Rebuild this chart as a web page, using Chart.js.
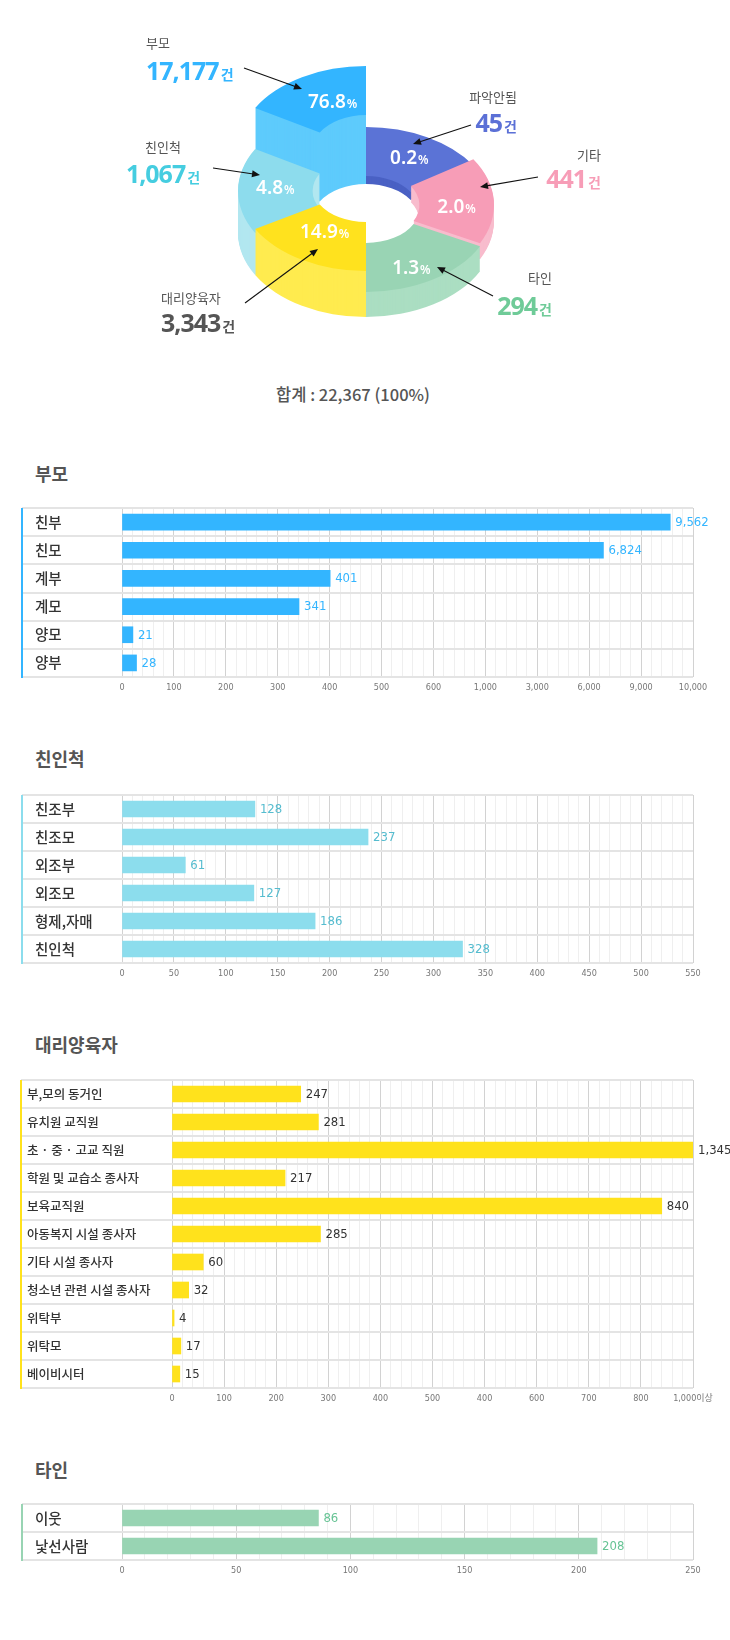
<!DOCTYPE html>
<html><head><meta charset="utf-8">
<script src="https://cdn.jsdelivr.net/npm/chart.js@4"></script>
<style>
html,body{margin:0;padding:0;background:#fff;}
#page{position:relative;width:730px;height:1640px;overflow:hidden;font-family:'Noto Sans CJK KR','Noto Sans',sans-serif;background:#fff;}
canvas{position:absolute;left:0;}
.title{position:absolute;left:35px;font-size:18px;line-height:22px;font-weight:700;color:#555;white-space:nowrap;}
.co{position:absolute;white-space:nowrap;z-index:2;}
.co .nm{font-size:13px;line-height:16px;color:#555;}
.co .num{font-family:'Noto Sans',sans-serif;font-weight:700;font-size:25px;line-height:28px;letter-spacing:-1px;}
.co .unit{font-family:'Noto Sans CJK KR',sans-serif;font-size:14px;font-weight:700;letter-spacing:0;margin-left:2px;}
#total{position:absolute;left:353px;top:384px;transform:translateX(-50%);font-size:16.5px;line-height:20px;color:#555;font-weight:500;white-space:nowrap;}
</style></head>
<body><div id="page">
<canvas id="pie" width="730" height="360" style="top:0"></canvas>
<div id="total"></div>
<div class="title" style="top:462px">부모</div>
<canvas id="c1" width="730" height="208" style="top:495px"></canvas>
<div class="title" style="top:747px">친인척</div>
<canvas id="c2" width="730" height="207" style="top:782px"></canvas>
<div class="title" style="top:1033px">대리양육자</div>
<canvas id="c3" width="730" height="347" style="top:1067px"></canvas>
<div class="title" style="top:1458px">타인</div>
<canvas id="c4" width="730" height="95" style="top:1491px"></canvas>
</div>
<script>
// ---------------- DATA ----------------
const pieLabels   = ['파악안됨','기타','타인','대리양육자','친인척','부모'];
const pieCounts   = [45, 441, 294, 3343, 1067, 17177];
const piePercents = [0.2, 2.0, 1.3, 14.9, 4.8, 76.8];
// the reference draws the slices at these sizes (degrees), not in proportion to the counts
const pieDrawnShare = [57, 60, 63, 60, 60, 60];
const totalCount = 22367;
const totalPercent = 100;

const parentCats = ['친부','친모','계부','계모','양모','양부'];
const parentVals = [9562, 6824, 401, 341, 21, 28];
const parentTicks = [0,100,200,300,400,500,600,1000,3000,6000,9000,10000];

const relativeCats = ['친조부','친조모','외조부','외조모','형제,자매','친인척'];
const relativeVals = [128, 237, 61, 127, 186, 328];
const relativeTicks = [0,50,100,150,200,250,300,350,400,450,500,550];

const surrogateCats = ['부,모의 동거인','유치원 교직원','초 · 중 · 고교 직원','학원 및 교습소 종사자','보육교직원','아동복지 시설 종사자','기타 시설 종사자','청소년 관련 시설 종사자','위탁부','위탁모','베이비시터'];
const surrogateVals = [247, 281, 1345, 217, 840, 285, 60, 32, 4, 17, 15];
const surrogateTicks = [0,100,200,300,400,500,550,600,700,800,900];
const surrogateTickLabels = ['0','100','200','300','400','500','400','600','700','800','1,000이상'];

const otherCats = ['이웃','낯선사람'];
const otherVals = [86, 208];
const otherTicks = [0,50,100,150,200,250];

// ---------------- STYLE ----------------
Chart.defaults.font.family = "'Noto Sans CJK KR','Noto Sans',sans-serif";
Chart.defaults.animation = false;
Chart.defaults.responsive = false;
const NARROW = "'Liberation Sans Narrow','DejaVu Sans Condensed','Noto Sans CJK KR',sans-serif";

const pieStyle = {
  top:  ['#5b73d6','#f79db7','#99d4b4','#ffe21e','#8ddced','#33b5ff'],
  side: ['#4a61c4','#f8bccd','#abdec2','#ffeb4f','#b2e7f0','#5ecbfc'],
  elev: [0, 6, 3, 24, 20, 61],
  depth:[8, 10, 22, 22, 22, 8],
  labelNudge: [[0,0],[0,6],[-2,10],[4,-6],[0,-2],[12,4]],
  squash: 84/128
};
const calloutStyle = [
  {color:'#5b70d6', x:517, align:'right',  nameY:97,  numY:122, from:[471,125], to:[413,144]},
  {color:'#f79db7', x:601, align:'right',  nameY:155, numY:178, from:[538,177], to:[480,187]},
  {color:'#6fcb98', x:552, align:'right',  nameY:278, numY:305, from:[493,296], to:[437,267]},
  {color:'#555555', x:161, align:'left',   nameY:298, numY:322, from:[245,303], to:[318,249]},
  {color:'#45cde0', x:163, align:'center', nameY:147, numY:173, from:[213,168], to:[260,175]},
  {color:'#33b5ff', x:146, align:'left',   nameY:43,  numY:70,  from:[244,68],  to:[302,89]}
];

const fmt = v => v.toLocaleString('en-US');

// ---------------- PIE ----------------
const pie3d = {
  id:'pie3d',
  beforeDatasetsDraw(chart){
    const ctx = chart.ctx, st = pieStyle, k = st.squash;
    const arcs = chart.getDatasetMeta(0).data.map((a,i)=>{
      const p = a.getProps(['x','y','startAngle','endAngle','innerRadius','outerRadius'], true);
      return Object.assign({i, mid:(p.startAngle+p.endAngle)/2}, p);
    });
    const face = (a, lift) => {
      ctx.save(); ctx.translate(a.x, a.y - lift); ctx.scale(1, k);
      ctx.beginPath();
      ctx.arc(0,0,a.outerRadius,a.startAngle,a.endAngle);
      ctx.arc(0,0,a.innerRadius,a.endAngle,a.startAngle,true);
      ctx.closePath(); ctx.restore(); ctx.fill();
    };
    arcs.slice().sort((a,b)=>Math.sin(a.mid)-Math.sin(b.mid)).forEach(a=>{
      ctx.fillStyle = st.side[a.i];
      for (let h = -st.depth[a.i]; h < st.elev[a.i]; h++) face(a, h);
      ctx.fillStyle = st.top[a.i];
      face(a, st.elev[a.i]);
    });
    ctx.save();
    ctx.fillStyle = '#fff'; ctx.textBaseline = 'middle'; ctx.textAlign = 'left';
    const big = "600 19px 'Noto Sans'", small = "600 12px 'Noto Sans'";
    arcs.forEach(a=>{
      const r = (a.innerRadius + a.outerRadius)/2;
      const x = a.x + r*Math.cos(a.mid) + st.labelNudge[a.i][0];
      const y = a.y - st.elev[a.i] + r*Math.sin(a.mid)*k + st.labelNudge[a.i][1];
      const num = piePercents[a.i].toFixed(1);
      ctx.font = big; const w1 = ctx.measureText(num).width;
      ctx.font = small; const w2 = ctx.measureText('%').width;
      const sx = x - (w1 + w2 + 1)/2;
      ctx.font = big; ctx.fillText(num, sx, y);
      ctx.font = small; ctx.fillText('%', sx + w1 + 1, y + 2);
    });
    ctx.restore();
    return false;
  },
  afterDraw(chart){
    const ctx = chart.ctx;
    ctx.save(); ctx.strokeStyle = '#111'; ctx.fillStyle = '#111'; ctx.lineWidth = 1.1;
    calloutStyle.forEach(c=>{
      const [x1,y1] = c.from, [x2,y2] = c.to;
      const ang = Math.atan2(y2-y1, x2-x1);
      ctx.beginPath(); ctx.moveTo(x1,y1); ctx.lineTo(x2 - 5*Math.cos(ang), y2 - 5*Math.sin(ang)); ctx.stroke();
      ctx.beginPath(); ctx.moveTo(x2,y2);
      ctx.lineTo(x2 - 8*Math.cos(ang) + 3.5*Math.sin(ang), y2 - 8*Math.sin(ang) - 3.5*Math.cos(ang));
      ctx.lineTo(x2 - 8*Math.cos(ang) - 3.5*Math.sin(ang), y2 - 8*Math.sin(ang) + 3.5*Math.cos(ang));
      ctx.closePath(); ctx.fill();
    });
    ctx.restore();
  }
};

new Chart(document.getElementById('pie'), {
  type:'doughnut',
  data:{labels:pieLabels, datasets:[{data:pieDrawnShare, backgroundColor:pieStyle.top, borderWidth:0, hoverOffset:0, offset:0}]},
  options:{cutout:'41.7%', layout:{padding:{left:238,right:236,top:83,bottom:21}},
    plugins:{legend:{display:false}, tooltip:{enabled:false}}},
  plugins:[pie3d]
});

// callout texts
const page = document.getElementById('page');
calloutStyle.forEach((c,i)=>{
  const mk = (html, y, h, cls) => {
    const d = document.createElement('div');
    d.className = 'co';
    d.innerHTML = `<div class="${cls}">${html}</div>`;
    d.style.top = (y - h/2) + 'px';
    if (c.align === 'left') d.style.left = c.x + 'px';
    else if (c.align === 'right') d.style.right = (730 - c.x) + 'px';
    else { d.style.left = c.x + 'px'; d.style.transform = 'translateX(-50%)'; }
    page.appendChild(d);
  };
  mk(pieLabels[i], c.nameY, 16, 'nm');
  mk(`<span style="color:${c.color}">${fmt(pieCounts[i])}<span class="unit">건</span></span>`, c.numY, 28, 'num');
});
document.getElementById('total').textContent = `합계 : ${fmt(totalCount)} (${totalPercent}%)`;

// ---------------- BARS ----------------
function toIndex(v, breaks){
  const n = breaks.length - 1;
  if (v >= breaks[n]) return n;
  for (let i = 1; i <= n; i++) if (v <= breaks[i]) return i - 1 + (v - breaks[i-1])/(breaks[i] - breaks[i-1]);
  return n;
}
const isInt = v => Math.abs(v - Math.round(v)) < 1e-6;

const valueLabels = {
  id:'valueLabels',
  afterDatasetsDraw(chart, args, o){
    const ctx = chart.ctx, ds = chart.data.datasets[0];
    ctx.save(); ctx.font = o.font; ctx.fillStyle = o.color; ctx.textBaseline = 'middle'; ctx.textAlign = 'left';
    chart.getDatasetMeta(0).data.forEach((bar,i)=> ctx.fillText(fmt(ds.raw[i]), bar.x + o.offset, bar.y + 0.5));
    ctx.restore();
  }
};
const accentLine = {
  id:'accentLine',
  afterDraw(chart, args, o){
    const ctx = chart.ctx, a = chart.chartArea;
    ctx.save(); ctx.fillStyle = o.color;
    ctx.fillRect(a.left - o.gap - 1, a.top, 2, a.bottom - a.top + 1);
    ctx.restore();
  }
};

function barChart(id, cats, vals, breaks, tickLabels, s){
  const n = breaks.length - 1;
  new Chart(document.getElementById(id), {
    type:'bar',
    data:{labels:cats, datasets:[{data:vals.map(v=>toIndex(v,breaks)), raw:vals, backgroundColor:s.color, barThickness:16, borderWidth:0}]},
    options:{
      indexAxis:'y',
      layout:{padding:{left:s.labelX, right:37, top:13, bottom:0}},
      plugins:{legend:{display:false}, tooltip:{enabled:false},
        valueLabels:{font:`13px ${NARROW}`, color:s.valueColor, offset:5},
        accentLine:{color:s.color, gap:s.areaLeft - s.borderX}},
      scales:{
        x:{type:'linear', min:0, max:n,
          afterFit(sc){ sc.height = 26; },
          ticks:{stepSize:0.2, autoSkip:false, maxRotation:0, minRotation:0, padding:5, color:'#777',
            font:{size:9, family:NARROW},
            callback:(v)=> isInt(v) ? tickLabels[Math.round(v)] : ''},
          grid:{drawTicks:false, lineWidth:1, color:(c)=> isInt(c.tick.value) ? '#d2d2d2' : '#efefef'},
          border:{display:false}},
        y:{afterFit(sc){ sc.width = s.areaLeft - s.labelX; },
          ticks:{crossAlign:'far', color:'#333', font:{size:s.labelSize, weight:'500'}, autoSkip:false},
          grid:{offset:true, color:'#e4e4e4', lineWidth:2, tickLength:s.areaLeft - s.borderX},
          border:{display:false}}
      }
    },
    plugins:[valueLabels, accentLine]
  });
}
const commaTicks = t => t.map(fmt);
barChart('c1', parentCats, parentVals, parentTicks, commaTicks(parentTicks),
  {color:'#33b5ff', valueColor:'#33b5ff', labelX:35, areaLeft:122, borderX:22, labelSize:14.5});
barChart('c2', relativeCats, relativeVals, relativeTicks, commaTicks(relativeTicks),
  {color:'#8cdded', valueColor:'#55bccf', labelX:35, areaLeft:122, borderX:22, labelSize:14.5});
barChart('c3', surrogateCats, surrogateVals, surrogateTicks, surrogateTickLabels,
  {color:'#ffe21c', valueColor:'#333333', labelX:27, areaLeft:172, borderX:21, labelSize:12.5});
barChart('c4', otherCats, otherVals, otherTicks, commaTicks(otherTicks),
  {color:'#98d4b3', valueColor:'#66c394', labelX:35, areaLeft:122, borderX:22, labelSize:14.5});
</script>
</body></html>
